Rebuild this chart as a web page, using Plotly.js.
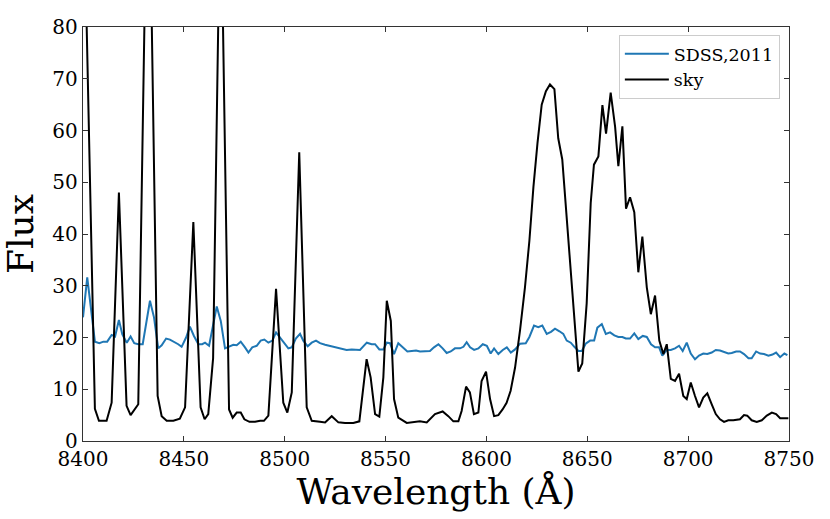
<!DOCTYPE html>
<html>
<head>
<meta charset="utf-8">
<script src="https://cdn.plot.ly/plotly-3.0.1.min.js"></script>
<style>
html, body { margin: 0; padding: 0; background: white; }
#chart { width: 830px; height: 519px; }
</style>
</head>
<body>
<div id="chart"></div>
<script>
const xTicks = [8400, 8450, 8500, 8550, 8600, 8650, 8700, 8750];
const yTicks = [0, 10, 20, 30, 40, 50, 60, 70, 80];

const sdssWave = [8400.0, 8402.1, 8405.9, 8408.1, 8410.1, 8412.0, 8414.2, 8415.9, 8417.8, 8419.5, 8421.7, 8423.6, 8425.4, 8427.4, 8429.6, 8433.2, 8435.2, 8437.3, 8439.0, 8441.2, 8443.1, 8445.1, 8447.2, 8448.9, 8451.1, 8453.0, 8455.0, 8457.2, 8459.1, 8460.5, 8462.5, 8466.3, 8468.3, 8470.4, 8472.4, 8474.5, 8476.2, 8478.2, 8480.3, 8482.0, 8483.9, 8486.1, 8488.1, 8489.9, 8491.9, 8493.9, 8495.7, 8497.7, 8499.7, 8501.8, 8503.5, 8505.5, 8507.6, 8509.2, 8511.4, 8513.4, 8515.5, 8517.5, 8520.0, 8524.9, 8528.3, 8530.7, 8533.2, 8535.7, 8537.3, 8540.7, 8543.1, 8544.8, 8546.9, 8548.9, 8550.6, 8552.2, 8554.2, 8556.3, 8558.8, 8560.8, 8563.0, 8565.1, 8567.1, 8569.1, 8572.0, 8574.0, 8576.2, 8578.3, 8580.3, 8582.3, 8584.4, 8586.9, 8588.6, 8590.2, 8591.9, 8593.9, 8596.0, 8598.2, 8600.2, 8602.1, 8603.8, 8605.9, 8608.1, 8610.1, 8612.1, 8614.2, 8616.7, 8619.5, 8621.3, 8623.6, 8625.7, 8627.7, 8629.9, 8632.0, 8634.0, 8636.2, 8638.1, 8639.8, 8641.8, 8643.6, 8645.6, 8647.3, 8649.2, 8651.4, 8653.4, 8655.0, 8657.2, 8659.2, 8661.3, 8663.4, 8665.4, 8667.4, 8669.1, 8671.2, 8673.3, 8675.3, 8677.5, 8679.5, 8681.6, 8683.6, 8685.6, 8687.2, 8689.4, 8691.4, 8693.5, 8695.5, 8697.3, 8699.3, 8701.3, 8703.4, 8705.4, 8707.5, 8709.5, 8711.7, 8713.7, 8715.8, 8718.0, 8719.9, 8721.6, 8723.8, 8725.7, 8727.7, 8729.9, 8731.5, 8733.7, 8735.7, 8737.6, 8739.8, 8741.8, 8743.6, 8745.6, 8747.7, 8749.2];
const sdssFlux = [23.9, 31.6, 19.2, 18.9, 19.2, 19.2, 20.5, 20.2, 23.4, 20.6, 19.0, 20.2, 18.9, 18.7, 18.7, 27.1, 23.9, 17.9, 18.5, 19.8, 19.6, 19.2, 18.7, 18.2, 20.0, 22.1, 20.3, 18.7, 18.7, 19.0, 18.4, 26.0, 23.2, 17.9, 18.2, 18.6, 18.5, 19.2, 18.1, 17.1, 18.1, 18.4, 19.4, 19.6, 19.0, 19.4, 21.0, 20.0, 19.0, 17.9, 18.1, 19.8, 20.7, 19.4, 18.3, 19.0, 19.4, 18.9, 18.6, 18.1, 17.9, 17.6, 17.7, 17.6, 17.6, 19.0, 18.7, 18.7, 17.7, 17.7, 19.0, 18.9, 16.8, 18.9, 18.1, 17.3, 17.4, 17.5, 17.3, 17.4, 17.4, 18.1, 18.7, 17.9, 17.0, 17.3, 17.9, 17.9, 18.2, 19.1, 18.1, 17.6, 17.9, 18.7, 18.4, 16.9, 17.9, 16.8, 17.6, 18.1, 17.1, 17.7, 18.8, 18.9, 20.1, 22.3, 22.0, 22.3, 20.7, 21.1, 21.7, 21.2, 20.7, 19.4, 19.0, 18.2, 17.4, 17.4, 18.8, 19.4, 19.4, 21.9, 22.6, 20.7, 21.0, 20.4, 20.1, 20.1, 19.8, 19.8, 20.8, 19.7, 20.3, 20.1, 18.7, 18.1, 18.1, 16.5, 17.6, 17.6, 17.9, 18.4, 17.4, 19.0, 16.9, 15.8, 16.5, 16.9, 16.8, 17.1, 17.6, 17.5, 17.1, 16.9, 17.0, 17.3, 17.3, 16.8, 16.0, 16.0, 17.3, 16.9, 16.8, 16.5, 16.7, 17.1, 16.2, 16.9, 16.6];

const skyWave = [8399.0, 8401.0, 8405.9, 8407.9, 8411.7, 8414.2, 8417.8, 8421.6, 8423.6, 8427.4, 8432.3, 8437.0, 8439.0, 8441.5, 8444.8, 8448.0, 8450.6, 8454.7, 8458.3, 8460.3, 8462.1, 8464.5, 8468.2, 8472.4, 8474.2, 8476.2, 8478.2, 8480.0, 8482.5, 8485.3, 8487.8, 8489.7, 8491.9, 8495.7, 8499.3, 8501.3, 8503.5, 8507.2, 8510.9, 8513.4, 8517.5, 8520.0, 8523.3, 8526.6, 8529.9, 8534.0, 8537.0, 8540.6, 8542.6, 8544.8, 8546.9, 8548.9, 8550.6, 8552.6, 8554.2, 8556.3, 8560.5, 8563.8, 8567.0, 8570.4, 8574.5, 8578.3, 8581.1, 8583.6, 8586.1, 8587.7, 8589.9, 8591.8, 8593.8, 8596.0, 8597.6, 8599.8, 8601.8, 8603.8, 8605.9, 8608.0, 8610.0, 8612.0, 8614.2, 8616.7, 8619.1, 8621.3, 8623.3, 8625.3, 8627.4, 8629.5, 8631.5, 8633.7, 8635.6, 8637.6, 8639.6, 8641.6, 8643.6, 8645.6, 8647.5, 8649.7, 8651.7, 8653.3, 8655.5, 8657.5, 8659.3, 8661.6, 8663.8, 8665.4, 8667.4, 8669.2, 8671.2, 8673.3, 8675.3, 8677.3, 8679.5, 8681.5, 8683.6, 8685.7, 8687.7, 8689.4, 8691.4, 8693.5, 8695.5, 8697.6, 8699.3, 8701.3, 8703.4, 8705.4, 8707.5, 8709.5, 8711.7, 8713.7, 8715.8, 8717.8, 8719.9, 8722.4, 8725.7, 8727.7, 8729.3, 8731.5, 8734.0, 8736.5, 8739.0, 8741.5, 8743.6, 8745.6, 8747.5, 8749.7];
const skyFlux = [110, 95, 6.2, 3.9, 3.9, 7.4, 48, 6.8, 5.0, 7.1, 125, 8.7, 4.8, 3.9, 3.9, 4.3, 6.5, 42.3, 6.5, 4.2, 5.2, 16, 110, 6.1, 4.5, 5.5, 5.5, 4.2, 3.7, 3.7, 3.9, 3.9, 4.9, 29.4, 7.4, 5.5, 9.4, 55.8, 6.5, 3.9, 3.7, 3.6, 4.8, 3.6, 3.5, 3.5, 3.8, 15.8, 12.3, 5.2, 4.7, 12.3, 27.1, 23.2, 8.1, 4.5, 3.5, 3.6, 3.8, 3.6, 5.2, 5.7, 4.8, 3.8, 3.8, 5.8, 10.5, 9.4, 5.2, 5.5, 11.6, 13.4, 8.1, 4.8, 5.0, 6.1, 7.4, 9.7, 14.2, 21.5, 29.7, 38.7, 49.1, 57.5, 65.0, 67.6, 68.9, 68.0, 58.5, 54.4, 44.0, 33.7, 23.4, 13.4, 15.0, 26.6, 46.0, 53.4, 55.0, 64.9, 59.4, 67.3, 60.7, 53.1, 60.8, 44.9, 47.1, 44.2, 32.6, 39.5, 29.7, 24.5, 28.1, 19.4, 16.8, 18.7, 12.0, 11.6, 13.0, 8.7, 8.1, 11.3, 8.7, 6.5, 8.4, 9.2, 7.1, 5.2, 4.2, 3.7, 4.0, 4.0, 4.2, 5.0, 4.9, 4.0, 3.7, 4.0, 4.9, 5.5, 5.2, 4.4, 4.4, 4.4];

const traces = [
  {x: sdssWave, y: sdssFlux, type: 'scatter', mode: 'lines', name: 'SDSS,2011',
   line: {color: '#1f77b4', width: 2}},
  {x: skyWave, y: skyFlux, type: 'scatter', mode: 'lines', name: 'sky',
   line: {color: '#000000', width: 2}}
];

const axisCommon = {
  ticks: 'inside', ticklen: 5, tickwidth: 1, tickcolor: '#333333',
  showline: true, linecolor: '#333333', linewidth: 1.3, mirror: 'ticks',
  showgrid: false, zeroline: false, automargin: false,
  tickfont: {size: 20, color: '#000000', family: 'DejaVu Serif, serif'}
};

const layout = {
  width: 830, height: 519,
  margin: {l: 83, r: 41, t: 27, b: 78, pad: 0},
  paper_bgcolor: '#ffffff', plot_bgcolor: '#ffffff',
  font: {family: 'DejaVu Serif, serif', color: '#000000'},
  showlegend: true,
  xaxis: Object.assign({}, axisCommon, {
    range: [8400, 8750], tickmode: 'array', tickvals: xTicks,
    ticktext: xTicks.map(String),
    title: {text: 'Wavelength (Å)', font: {size: 36, family: 'DejaVu Serif, serif'}, standoff: 8}
  }),
  yaxis: Object.assign({}, axisCommon, {
    range: [0, 80], tickmode: 'array', tickvals: yTicks,
    ticktext: yTicks.map(String),
    title: {text: 'Flux', font: {size: 36, family: 'DejaVu Serif, serif'}, standoff: 8}
  }),
  legend: {
    x: 0.759, y: 0.981, xanchor: 'left', yanchor: 'top',
    bgcolor: 'rgba(255,255,255,0.85)', bordercolor: '#cccccc', borderwidth: 1,
    font: {size: 17.5, family: 'DejaVu Serif, serif', color: '#000000'},
    tracegroupgap: 0, itemwidth: 44
  }
};

Plotly.newPlot('chart', traces, layout, {displayModeBar: false, staticPlot: true});
</script>
</body>
</html>
